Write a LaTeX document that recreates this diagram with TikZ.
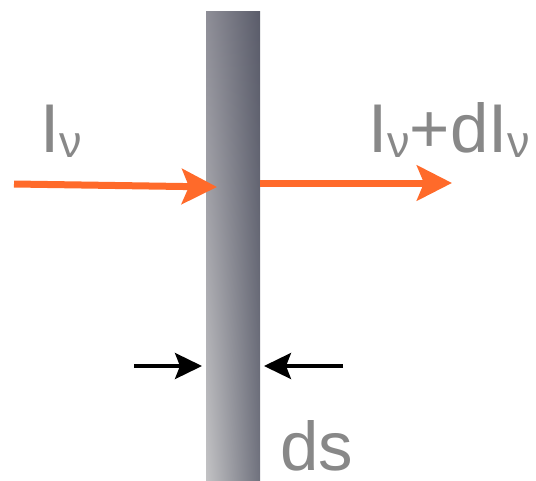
\documentclass[tikz,border=0pt]{standalone}
\usepackage{fontspec}
\setmainfont{Liberation Sans}
\usetikzlibrary{arrows.meta,shadings}
\definecolor{txtgray}{HTML}{888888}
\definecolor{orng}{HTML}{FF6A2A}
\definecolor{slabTL}{HTML}{8E8E97}
\definecolor{slabTR}{HTML}{5A5C6A}
\definecolor{slabBL}{HTML}{C2C2C4}
\definecolor{slabBR}{HTML}{6F717D}
\tikzset{
  lbl/.style={text=txtgray, inner sep=0pt, anchor=base west, font=\fontsize{69}{71}\selectfont},
  beam/.style={draw=orng, line width=7pt, -{Stealth[length=35pt, width=35pt, inset=7pt]}},
  gauge/.style={draw=black, line width=3.5pt, -{Stealth[length=27pt, width=26pt, inset=5pt]}},
}
\newcommand{\nusub}{\raisebox{-5pt}{\fontsize{45}{47}\selectfont ν}}
\begin{document}
\begin{tikzpicture}[x=1pt,y=-1pt]
\useasboundingbox (0,0) rectangle (536,480);
\node[minimum width=54pt, minimum height=469pt, inner sep=0pt, anchor=north west,
  shading=bilinear interpolation,
  upper left=slabTL, upper right=slabTR, lower left=slabBL, lower right=slabBR] (slab) at (206,11) {};
\coordinate (inL) at (14,184);
\coordinate (inT) at (217,187);
\coordinate (outS) at (260,183);
\coordinate (outT) at (452,183);
\coordinate (gL) at (134,366);
\coordinate (gLT) at (202,366);
\coordinate (gR) at (343,366);
\coordinate (gRT) at (264,366);
\draw[beam] (inL) -- (inT);
\draw[beam] (outS) -- (outT);
\draw[gauge] (gL) -- (gLT);
\draw[gauge] (gR) -- (gRT);
\node[lbl] (iin) at (40,152) {I\nusub};
\node[lbl] (iout) at (368,152) {I\nusub+dI\nusub};
\node[lbl] (ds) at (280,470) {ds};
\end{tikzpicture}
\end{document}
